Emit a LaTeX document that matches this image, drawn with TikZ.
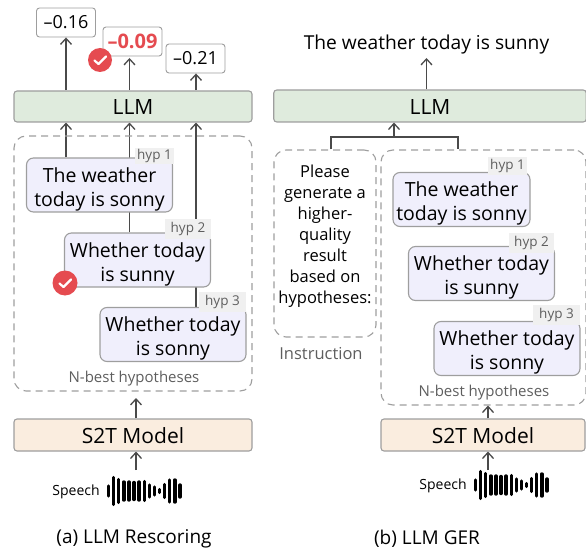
\documentclass[tikz,border=0pt]{standalone}
\usepackage{fontspec}
\setmainfont{Open Sans}
\usepackage{xcolor}
\usetikzlibrary{arrows.meta, backgrounds}

\definecolor{llmgreen}{HTML}{DFEBDD}
\definecolor{s2torange}{HTML}{FAEDDF}
\definecolor{hyplilac}{HTML}{F0EFFC}
\definecolor{edgegray}{HTML}{9E9E9E}
\definecolor{taggray}{HTML}{F0F0F0}
\definecolor{textgray}{HTML}{5E5E5E}
\definecolor{linegray}{HTML}{4A4A4A}
\definecolor{okred}{HTML}{E54B50}

\newcommand{\hypstrut}{\rule{0pt}{23pt}}

\tikzset{
  modelbox/.style={draw=edgegray, line width=1.1pt, rounded corners=3pt, inner sep=0pt, text height=19pt, text depth=2pt, font=\fontsize{21}{24}\selectfont},
  hypbox/.style={draw=edgegray, line width=1.1pt, fill=hyplilac, rounded corners=7pt, inner sep=0pt,
    minimum width=146pt, minimum height=54pt, align=center, font=\fontsize{19.5}{24}\selectfont},
  hyptag/.style={fill=taggray, text=textgray, inner sep=0pt, minimum height=20pt, font=\fontsize{13.5}{16}\selectfont},
  groupbox/.style={draw=edgegray, line width=1.1pt, dash pattern=on 7pt off 5pt, rounded corners=12pt, inner sep=0pt},
  scorebox/.style={draw=edgegray, line width=.9pt, fill=white, rounded corners=3pt, inner sep=0pt,
    minimum width=59pt, minimum height=29pt, font=\fontsize{18}{20}\selectfont},
  okbadge/.style={circle, fill=okred, inner sep=0pt, minimum size=24pt},
  plain/.style={inner sep=0pt, font=\fontsize{14}{16}\selectfont},
  caption/.style={inner sep=0pt, font=\fontsize{19}{22}\selectfont},
  flow/.style={draw=linegray, line width=1.3pt, -{Straight Barb[length=6pt,width=11pt]}},
  wave/.pic={
    \foreach \i/\h in {0/10, 1/27, 2/23, 3/18, 4/18, 5/17, 6/18, 7/19, 8/12, 9/8, 10/3, 11/13, 12/22, 13/22, 14/12}
      \draw[line width=3.4pt, line cap=round, black] (\i*5.1, -\h/2) -- (\i*5.1, \h/2);
  },
  tick/.pic={
    \draw[white, line width=2.2pt, line cap=round, line join=round] (-5.5,.5) -- (-1.5,4) -- (6,-3.5);
  }
}

\begin{document}
\begin{tikzpicture}[x=1pt, y=-1pt]
  \useasboundingbox (0, 0) rectangle (586, 548);

  % LLM Rescoring
  \node[scorebox] (scorea) at (66, 22.5) {–0.16};
  \node[scorebox, text=okred, font=\fontsize{20}{22}\selectfont\bfseries] (scoreb) at (132.5, 41.5) {–0.09};
  \node[scorebox] (scorec) at (195.5, 58.5) {–0.21};
  \node[okbadge] (oka) at (100, 60) {};
  \pic at (oka.center) {tick};

  \node[modelbox, fill=llmgreen, minimum width=238pt, minimum height=31pt] (llma) at (133, 106.5) {LLM};
  \node[groupbox, minimum width=238pt, minimum height=255pt] (groupa) at (133, 263.5) {};

  \node[hypbox] (hypaa) at (99.5, 185) {\hypstrut The weather\\today is sonny};
  \node[hypbox] (hypab) at (137.5, 260) {\hypstrut Whether today\\is sunny};
  \node[hypbox] (hypac) at (173, 334.5) {\hypstrut Whether today\\is sonny};
  \node[hyptag, minimum width=39pt, minimum height=16pt] (tagaa) at (154.5, 156) {hyp 1};
  \node[hyptag, minimum width=46pt] (tagab) at (188, 229) {hyp 2};
  \node[hyptag, minimum width=47pt] (tagac) at (222.5, 301.5) {hyp 3};
  \node[okbadge, minimum size=25pt] (okb) at (65, 283) {};
  \pic at (okb.center) {tick};

  \node[plain, font=\fontsize{15}{18}\selectfont, text=textgray] (nbesta) at (134, 379) {N-best hypotheses};
  \node[modelbox, fill=s2torange, minimum width=238pt, minimum height=32pt] (s2ta) at (133, 435) {S2T Model};
  \node[plain] (speecha) at (76, 492) {Speech};
  \pic at (108.5, 491) {wave};
  \coordinate (wavea) at (136, 470);
  \coordinate (nbesttipa) at (136, 398);
  \node[caption] (capa) at (134, 539) {(a) LLM Rescoring};

  \coordinate (tapa) at (66, 0);
  \coordinate (tapb) at (129.5, 58);
  \coordinate (tapc) at (196, 0);

  \begin{pgfonlayer}{background}
    \draw[flow] (llma.north -| tapa) -- (scorea.south -| tapa);
    \draw[flow] (llma.north -| tapb) -- (tapb);
    \draw[flow] (llma.north -| tapc) -- (scorec.south -| tapc);
    \draw[flow] (hypaa.north -| tapa) -- (llma.south -| tapa);
    \draw[flow] (hypab.north -| tapb) -- (llma.south -| tapb);
    \draw[flow] (hypac.north -| tapc) -- (llma.south -| tapc);
  \end{pgfonlayer}
  \draw[flow] (s2ta.north -| wavea) -- (nbesttipa);
  \draw[flow] (wavea) -- (s2ta.south -| wavea);

  % LLM GER
  \node[inner sep=0pt, font=\fontsize{19.2}{22}\selectfont] (outb) at (426.5, 45) {The weather today is sunny};
  \node[modelbox, fill=llmgreen, minimum width=312.5pt, minimum height=32pt] (llmb) at (430, 106) {LLM};
  \node[groupbox, minimum width=102pt, minimum height=187pt] (instb) at (325, 243.5) {};
  \node[groupbox, minimum width=205pt, minimum height=255pt] (groupb) at (483.5, 277.5) {};

  \node[inner sep=0pt, align=center, font=\fontsize{16.5}{21}\selectfont] (promptb) at (325, 236) {Please\\generate a\\higher-\\quality\\result\\based on\\hypotheses:};
  \node[plain, font=\fontsize{16.5}{18}\selectfont, text=textgray] (instlabel) at (321, 354) {Instruction};

  \node[hypbox, minimum width=137pt] (hypba) at (461.5, 199.5) {\hypstrut The weather\\today is sonny};
  \node[hypbox] (hypbb) at (481.5, 273.5) {\hypstrut Whether today\\is sunny};
  \node[hypbox] (hypbc) at (507, 348.5) {\hypstrut Whether today\\is sonny};
  \node[hyptag, minimum width=39pt, minimum height=18pt] (tagba) at (507.5, 166) {hyp 1};
  \node[hyptag, minimum width=45pt] (tagbb) at (531.5, 243) {hyp 2};
  \node[hyptag, minimum width=47pt] (tagbc) at (556.5, 315) {hyp 3};

  \node[plain, font=\fontsize{15}{18}\selectfont, text=textgray] (nbestb) at (484, 393) {N-best hypotheses};
  \node[modelbox, fill=s2torange, minimum width=204pt, minimum height=32pt] (s2tb) at (483, 435) {S2T Model};
  \node[plain] (speechb) at (443, 486) {Speech};
  \pic at (475.5, 485) {wave};
  \coordinate (waveb) at (488, 470);
  \coordinate (outtip) at (426.5, 58);
  \node[caption] (capb) at (427, 539) {(b) LLM GER};

  \coordinate (forkb) at (394, 137);
  \coordinate (lefttap) at (331, 137);
  \coordinate (righttap) at (458, 137);

  \draw[flow] (llmb.north -| outtip) -- (outtip);
  \draw[draw=linegray, line width=1.3pt] (lefttap |- instb.north) -- (lefttap) -- (righttap) -- (righttap |- groupb.north);
  \draw[flow] (forkb) -- (llmb.south -| forkb);
  \draw[flow] (s2tb.north -| waveb) -- (groupb.south -| waveb);
  \draw[flow] (waveb) -- (s2tb.south -| waveb);

\end{tikzpicture}
\end{document}
